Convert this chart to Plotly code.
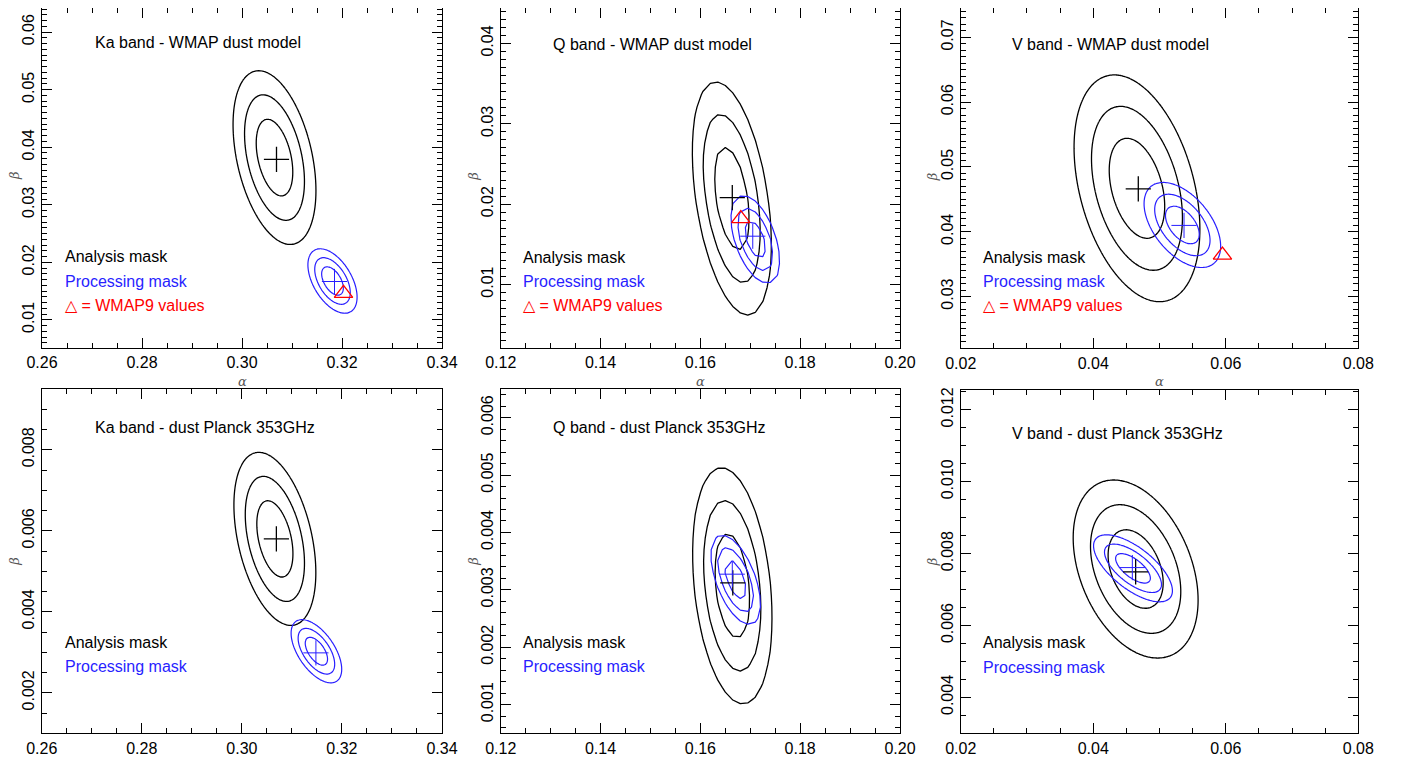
import numpy as np
import plotly.graph_objects as go

# ---------------- data ----------------
panel_titles = ["Ka band - WMAP dust model", "Q band - WMAP dust model", "V band - WMAP dust model",
                "Ka band - dust Planck 353GHz", "Q band - dust Planck 353GHz", "V band - dust Planck 353GHz"]

alpha_ranges = [[0.26, 0.34], [0.12, 0.20], [0.02, 0.08], [0.26, 0.34], [0.12, 0.20], [0.02, 0.08]]
beta_ranges = [[0.0051, 0.0649], [0.0021, 0.0449], [0.0220, 0.0750],
               [0.0010, 0.0095], [0.0005, 0.0065], [0.0030, 0.01255]]
beta_dticks = [0.01, 0.01, 0.01, 0.002, 0.001, 0.002]
beta_minor = [0.001, 0.001, 0.001, 0.0005, 0.0002, 0.0005]
beta_formats = [".2f", ".2f", ".2f", ".3f", ".3f", ".3f"]

# Analysis mask (black): best fit, contour centre, sigmas, correlation
ana_best_alpha = [0.3069, 0.1664, 0.0468, 0.3069, 0.1665, 0.0464]
ana_best_beta = [0.0379, 0.0208, 0.0466, 0.0058, 0.00312, 0.00749]
ana_mean_alpha = [0.3065, 0.1663, 0.0466, 0.3066, 0.1664, 0.0464]
ana_mean_beta = [0.0382, 0.0207, 0.0467, 0.0058, 0.00307, 0.00757]
ana_sig_alpha = [0.00241, 0.00231, 0.00276, 0.00238, 0.00232, 0.00274]
ana_sig_beta = [0.00439, 0.00422, 0.00509, 0.000621, 0.000599, 0.00072]
ana_rho = [-0.38, -0.40, -0.36, -0.39, -0.27, -0.35]

# Processing mask (blue)
pro_best_alpha = [0.3185, 0.1705, 0.0537, 0.3148, 0.1664, 0.0459]
pro_best_beta = [0.01666, 0.01601, 0.04097, 0.002986, 0.003273, 0.00761]
pro_mean_alpha = [0.3181, 0.1710, 0.05345, 0.3149, 0.1671, 0.0460]
pro_mean_beta = [0.01675, 0.01562, 0.04104, 0.003026, 0.003174, 0.00759]
pro_sig_alpha = [0.00143, 0.00143, 0.00168, 0.00147, 0.00146, 0.00173]
pro_sig_beta = [0.00163, 0.0016, 0.00191, 0.000227, 0.000228, 0.000271]
pro_rho = [-0.50, -0.49, -0.50, -0.57, -0.55, -0.67]

# WMAP9 values (red triangles, top row only)
wmap9_alpha = [0.3203, 0.1681, 0.0595]
wmap9_beta = [0.0146, 0.0182, 0.0364]

# delta chi^2 levels for 68.3 / 95.4 / 99.73 % (2 parameters)
dchi2_levels = [2.30, 6.18, 11.83]

# likelihood grid steps (alpha, beta); None -> fine grid
grid_steps = [None, (0.0015, 0.0015), None, None, (0.0015, 0.0002), None]

# ---------------- layout geometry (pixels) ----------------
W, H = 1402, 763
OFF = 8  # page body margin
boxes = [(42, 442, 4, 348), (500.7, 900, 4, 348), (960.7, 1358.3, 5, 348.3),
         (41.7, 442, 389, 733.3), (500.7, 900, 389, 733.3), (960.7, 1358.3, 390, 733.3)]
title_px = [(92.7, 42), (550.7, 44.3), (1010, 44.3), (92.7, 427.7), (550.7, 427.7), (1010, 433.3)]
legend_px_x = [62.7, 520.7, 980.7, 62.7, 520.7, 980.7]
legend_px_y = [[257, 281.7, 305.7], [257.3, 281.7, 305.7], [257.3, 281.7, 305.7],
               [642.3, 666.7], [642.3, 666.7], [642.3, 667.3]]

BLACK = "#000000"
BLUE = "rgb(40,30,255)"
RED = "rgb(255,0,0)"
FONT = "Liberation Sans, Arial, Helvetica, sans-serif"

fig = go.Figure()
layout = {}
annotations = []


def px_x(p):
    return min(max((p - OFF) / W, 0.0), 1.0)


def px_y(p):
    return min(max(1 - (p - OFF) / H, 0.0), 1.0)


def chi2_grid(xg, yg, mx, my, sx, sy, rho):
    X, Y = np.meshgrid(xg, yg)
    dx = (X - mx) / sx
    dy = (Y - my) / sy
    return (dx * dx - 2 * rho * dx * dy + dy * dy) / (1 - rho * rho)


for i in range(6):
    n = "" if i == 0 else str(i + 1)
    xa, ya = "x" + n, "y" + n
    x0, x1, y0, y1 = boxes[i]
    xr, yr = alpha_ranges[i], list(beta_ranges[i])

    # keep data->pixel scale when the top frame can't go above the page margin
    if y0 < OFF:
        scale = (yr[1] - yr[0]) / (y1 - y0)
        yr[1] = yr[1] - (OFF - y0) * scale
        y0 = OFF

    if grid_steps[i] is None:
        xg = np.linspace(xr[0], xr[1], 320)
        yg = np.linspace(beta_ranges[i][0], beta_ranges[i][1], 320)
        smooth = 1
    else:
        xg = np.arange(xr[0], xr[1] + 1e-9, grid_steps[i][0])
        yg = np.arange(beta_ranges[i][0], beta_ranges[i][1] + 1e-9, grid_steps[i][1])
        smooth = 0

    for (mx, my, sx, sy, rho, col, w) in [
        (ana_mean_alpha[i], ana_mean_beta[i], ana_sig_alpha[i], ana_sig_beta[i], ana_rho[i], BLACK, 1.3),
        (pro_mean_alpha[i], pro_mean_beta[i], pro_sig_alpha[i], pro_sig_beta[i], pro_rho[i], BLUE, 1.2),
    ]:
        Z = chi2_grid(xg, yg, mx, my, sx, sy, rho)
        for L in dchi2_levels:
            fig.add_trace(go.Contour(
                x=xg, y=yg, z=Z, xaxis=xa, yaxis=ya,
                contours=dict(start=L, end=L, size=1, coloring="lines", showlabels=False),
                line=dict(color=col, width=w, smoothing=smooth),
                colorscale=[[0, col], [1, col]], showscale=False, hoverinfo="skip",
                showlegend=False))

    # best fit crosses
    fig.add_trace(go.Scatter(x=[ana_best_alpha[i]], y=[ana_best_beta[i]], mode="markers", xaxis=xa, yaxis=ya,
                             marker=dict(symbol="cross-thin", size=18, line=dict(color=BLACK, width=1.3)),
                             showlegend=False, hoverinfo="skip"))
    fig.add_trace(go.Scatter(x=[pro_best_alpha[i]], y=[pro_best_beta[i]], mode="markers", xaxis=xa, yaxis=ya,
                             marker=dict(symbol="cross-thin", size=18, line=dict(color=BLUE, width=1.0)),
                             showlegend=False, hoverinfo="skip"))
    if i < 3:
        fig.add_trace(go.Scatter(x=[wmap9_alpha[i]], y=[wmap9_beta[i]], mode="markers", xaxis=xa, yaxis=ya,
                                 marker=dict(symbol="triangle-up-open", size=16, color=RED,
                                             line=dict(color=RED, width=1.3)),
                                 showlegend=False, hoverinfo="skip"))

    axis_common = dict(showline=True, linecolor="black", linewidth=1.3, mirror="allticks",
                       ticks="inside", ticklen=10, tickwidth=1, tickcolor="black",
                       showgrid=False, zeroline=False, automargin=False,
                       tickfont=dict(family=FONT, size=16, color="black"))
    layout["xaxis" + n] = dict(axis_common, domain=[px_x(x0), px_x(x1)], range=xr, anchor=ya,
                               tick0=xr[0], dtick=0.02, tickformat=".2f", ticklabelstandoff=0,
                               minor=dict(dtick=0.005, tick0=xr[0], ticklen=5, ticks="inside",
                                          tickcolor="black", tickwidth=1, showgrid=False))
    layout["yaxis" + n] = dict(axis_common, domain=[px_y(y1), px_y(y0)], range=yr, anchor=xa,
                               tick0=0, dtick=beta_dticks[i], tickformat=beta_formats[i], tickangle=-90,
                               minor=dict(dtick=beta_minor[i], tick0=0, ticklen=5, ticks="inside",
                                          tickcolor="black", tickwidth=1, showgrid=False))

    # panel title and legend texts
    tx, ty = title_px[i]
    annotations.append(dict(text=panel_titles[i], xref="paper", yref="paper", x=px_x(tx), y=px_y(ty),
                            xanchor="left", yanchor="middle", showarrow=False,
                            font=dict(family=FONT, size=16, color="black")))
    leg_items = [("Analysis mask", BLACK), ("Processing mask", BLUE)]
    if i < 3:
        leg_items.append(("△ = WMAP9 values", RED))
    for k, (txt, col) in enumerate(leg_items):
        annotations.append(dict(text=txt, xref="paper", yref="paper",
                                x=px_x(legend_px_x[i]), y=px_y(legend_px_y[i][k]),
                                xanchor="left", yanchor="middle", showarrow=False,
                                font=dict(family=FONT, size=16, color=col)))

    # axis symbols
    annotations.append(dict(text="<i>β</i>", xref="paper", yref="paper",
                            x=px_x(x0 - 28), y=px_y((boxes[i][2] + y1) / 2), xanchor="center", yanchor="middle",
                            textangle=-90, showarrow=False,
                            font=dict(family="DejaVu Serif, serif", size=13, color="#555555")))
    if i < 3:
        annotations.append(dict(text="<i>α</i>", xref="paper", yref="paper",
                                x=px_x((x0 + x1) / 2), y=px_y(381), xanchor="center", yanchor="middle",
                                showarrow=False,
                                font=dict(family="DejaVu Serif, serif", size=13, color="#555555")))

fig.update_layout(**layout)
fig.update_layout(width=W, height=H, margin=dict(l=0, r=0, t=0, b=0, autoexpand=False),
                  paper_bgcolor="white", plot_bgcolor="white", showlegend=False,
                  annotations=annotations)
fig.write_html("out.html")
